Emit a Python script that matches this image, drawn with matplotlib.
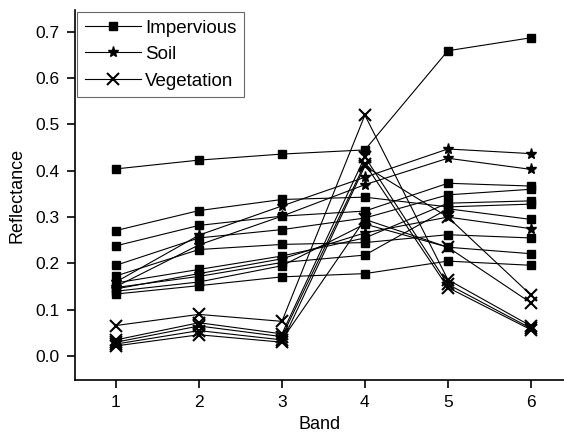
import matplotlib
matplotlib.use('Agg')
import matplotlib.pyplot as plt

plt.rcParams['font.family'] = ['Liberation Sans', 'DejaVu Sans']

bands = [1, 2, 3, 4, 5, 6]

# reflectance curves
impervious = [
    [0.404, 0.423, 0.436, 0.445, 0.659, 0.687],
    [0.271, 0.314, 0.338, 0.343, 0.322, 0.328],
    [0.238, 0.282, 0.302, 0.313, 0.373, 0.367],
    [0.196, 0.255, 0.273, 0.298, 0.348, 0.360],
    [0.173, 0.230, 0.241, 0.245, 0.262, 0.255],
    [0.158, 0.187, 0.216, 0.255, 0.330, 0.335],
    [0.148, 0.172, 0.202, 0.218, 0.318, 0.295],
    [0.140, 0.160, 0.195, 0.285, 0.235, 0.221],
    [0.134, 0.152, 0.171, 0.178, 0.205, 0.196],
]
soil = [
    [0.160, 0.261, 0.324, 0.386, 0.447, 0.437],
    [0.150, 0.240, 0.302, 0.370, 0.427, 0.403],
    [0.145, 0.178, 0.210, 0.266, 0.300, 0.275],
]
vegetation = [
    [0.066, 0.090, 0.075, 0.520, 0.165, 0.065],
    [0.035, 0.072, 0.048, 0.430, 0.155, 0.060],
    [0.030, 0.065, 0.042, 0.415, 0.148, 0.057],
    [0.026, 0.055, 0.035, 0.295, 0.235, 0.115],
    [0.022, 0.046, 0.030, 0.410, 0.300, 0.132],
]

fig = plt.figure(figsize=(5.64, 4.34), dpi=100)
ax = fig.add_axes([0.133, 0.124, 0.867, 0.853])

for i, ys in enumerate(impervious):
    ax.plot(bands, ys, color='black', lw=0.8, marker='s', ms=6,
            label='Impervious' if i == 0 else None)
for i, ys in enumerate(soil):
    ax.plot(bands, ys, color='black', lw=0.8, marker='*', ms=8,
            label='Soil' if i == 0 else None)
for i, ys in enumerate(vegetation):
    ax.plot(bands, ys, color='black', lw=0.8, marker='x', ms=8, mew=1.5,
            label='Vegetation' if i == 0 else None)

ax.set_xlim(0.506, 6.40)
ax.set_ylim(-0.052, 0.747)
ax.set_xticks(bands)
ax.set_yticks([0.0, 0.1, 0.2, 0.3, 0.4, 0.5, 0.6, 0.7])
ax.set_yticklabels(['0.0', '0.1', '0.2', '0.3', '0.4', '0.5', '0.6', '0.7'])
ax.tick_params(direction='out', length=6, width=1.2, labelsize=12.5, pad=5)
for s in ['top', 'right']:
    ax.spines[s].set_visible(False)
for s in ['left', 'bottom']:
    ax.spines[s].set_linewidth(1.2)

ax.set_xlabel('Band', fontsize=13, labelpad=4)
ax.set_ylabel('Reflectance', fontsize=13, labelpad=7)

leg = ax.legend(loc='upper left', fontsize=13.5, handlelength=3.0, handletextpad=0.2,
                borderpad=0.4, labelspacing=0.5, fancybox=False,
                bbox_to_anchor=(-0.003, 1.005), borderaxespad=0.2)
leg.get_frame().set_edgecolor('#444444')
leg.get_frame().set_linewidth(0.8)

fig.savefig('out.png', dpi=100)
